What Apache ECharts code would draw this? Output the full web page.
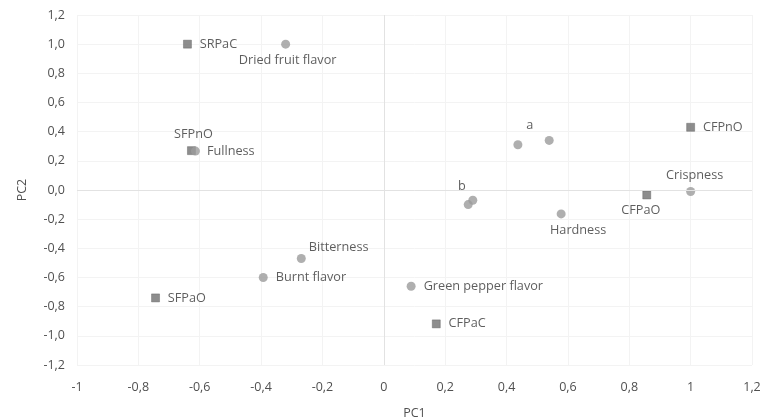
<!DOCTYPE html>
<html>
<head>
<meta charset="utf-8">
<script src="https://cdn.jsdelivr.net/npm/echarts@6/dist/echarts.min.js"></script>
<style>
  html, body { margin: 0; padding: 0; background: #fff; }
  #chart { width: 775px; height: 420px; }
</style>
</head>
<body>
<div id="chart"></div>
<script>
// sensory attributes (circles)
const attrNames = ["Dried fruit flavor", "Fullness", "a", "", "b", "", "Crispness", "Hardness", "Green pepper flavor", "Burnt flavor", "Bitterness"];
const attrX = [-0.32, -0.614, 0.437, 0.539, 0.29, 0.275, 1.0, 0.578, 0.089, -0.393, -0.269];
const attrY = [1.0, 0.267, 0.31, 0.34, -0.07, -0.10, -0.01, -0.164, -0.66, -0.60, -0.47];

// samples (squares)
const sampleNames = ["SRPaC", "SFPnO", "CFPnO", "CFPaO", "CFPaC", "SFPaO"];
const sampleX = [-0.64, -0.627, 1.0, 0.857, 0.171, -0.744];
const sampleY = [1.0, 0.27, 0.43, -0.034, -0.918, -0.74];

// axes
const xMin = -1, xMax = 1.2, yMin = -1.2, yMax = 1.2, step = 0.2;

// where each label sits relative to its mark
const labelPlace = {
  "Dried fruit flavor": { position: "bottom", offset: [2, 0] },
  "Fullness": { position: "right", distance: 7 },
  "a": { position: "top", offset: [12, -3] },
  "b": { position: "top", offset: [-11, 2] },
  "Crispness": { position: "top", offset: [4, 0] },
  "Hardness": { position: "bottom", offset: [17, 0] },
  "Green pepper flavor": { position: "right", distance: 8 },
  "Burnt flavor": { position: "right", distance: 8 },
  "Bitterness": { position: "right", offset: [-2, -11] },
  "SRPaC": { position: "right", distance: 8 },
  "SFPnO": { position: "top", offset: [2, 0] },
  "CFPnO": { position: "right", distance: 8 },
  "CFPaO": { position: "bottom", offset: [-6, 0] },
  "CFPaC": { position: "right", distance: 8 },
  "SFPaO": { position: "right", distance: 8 },
};

const FONT = "'Open Sans', sans-serif";
const TXT = "#363636";

function pts(names, xs, ys) {
  return names.map((n, i) => {
    const lp = labelPlace[n];
    return {
      value: [xs[i], ys[i]],
      label: n ? Object.assign({ show: true, formatter: n, color: TXT, fontSize: 12.7, fontFamily: FONT }, lp)
               : { show: false },
    };
  });
}

function fmt(v, fixed) {
  const r = Math.round(v * 10) / 10;
  const s = fixed ? r.toFixed(1) : String(r);
  return s.replace(".", ",");
}

const chart = echarts.init(document.getElementById("chart"));
chart.setOption({
  backgroundColor: "#fff",
  animation: false,
  grid: { left: 77, right: 23, top: 15, bottom: 55, outerBoundsMode: "none" },
  xAxis: {
    type: "value", min: xMin, max: xMax, interval: step,
    name: "PC1", nameLocation: "middle", nameGap: 42,
    nameTextStyle: { color: "#505050", fontSize: 12.5, fontFamily: FONT },
    axisLine: { show: false, onZero: false }, axisTick: { show: false },
    axisLabel: { color: "#505050", fontSize: 12.5, fontFamily: FONT, margin: 16, formatter: v => fmt(v, false) },
    splitLine: { show: true, lineStyle: { color: "#f3f3f3" } },
  },
  yAxis: {
    type: "value", min: yMin, max: yMax, interval: step,
    name: "PC2", nameLocation: "middle", nameGap: 48,
    nameTextStyle: { color: "#505050", fontSize: 12.5, fontFamily: FONT },
    axisLine: { show: false, onZero: false }, axisTick: { show: false },
    axisLabel: { color: "#505050", fontSize: 12.5, fontFamily: FONT, margin: 12, formatter: v => fmt(v, true) },
    splitLine: { show: true, lineStyle: { color: "#f3f3f3" } },
  },
  series: [
    {
      name: "attributes", type: "scatter", symbol: "circle", symbolSize: 9,
      itemStyle: { color: "#9b9b9b" },
      data: pts(attrNames, attrX, attrY),
      markLine: {
        silent: true, symbol: "none", label: { show: false },
        lineStyle: { color: "#e2e2e2", type: "solid", width: 1 },
        data: [{ xAxis: 0 }, { yAxis: 0 }],
      },
      z: 3,
    },
    {
      name: "samples", type: "scatter", symbol: "rect", symbolSize: 8,
      itemStyle: { color: "#707070", borderColor: "#5a5a5a", borderWidth: 0.5 },
      data: pts(sampleNames, sampleX, sampleY),
      z: 2,
    },
  ],
});
</script>
</body>
</html>
